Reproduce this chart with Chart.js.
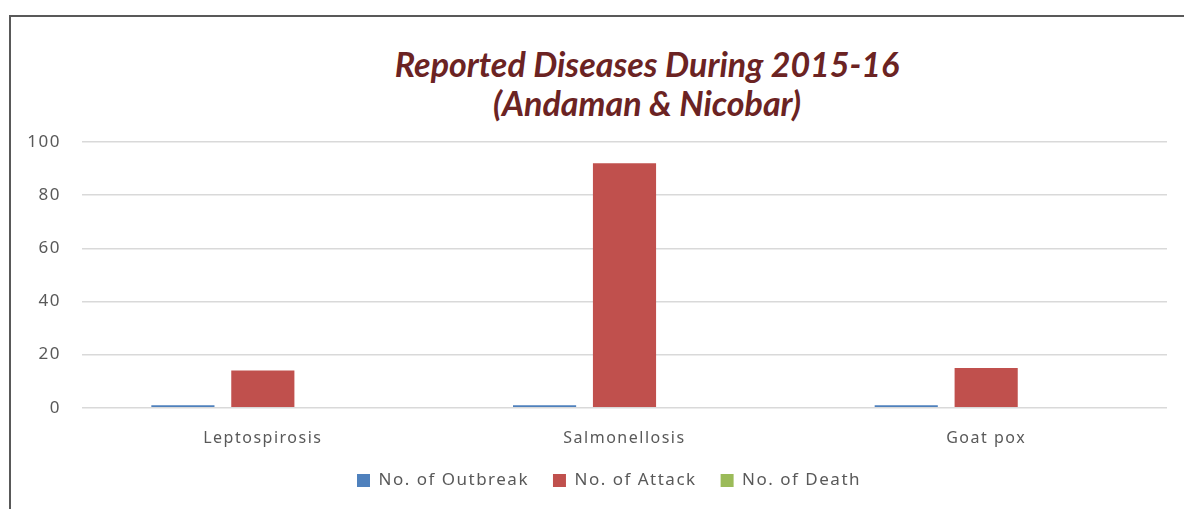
<!DOCTYPE html>
<html>
<head>
<meta charset="utf-8">
<script src="https://cdn.jsdelivr.net/npm/chart.js@4"></script>
<style>
  html, body { margin: 0; padding: 0; background: #fff; overflow: hidden; }
  body { width: 1184px; height: 509px; position: relative; }
  #frame {
    position: absolute; left: 9px; top: 15px; width: 1300px; height: 600px;
    border-left: 2px solid #595959; border-top: 2px solid #595959;
  }
  #title {
    position: absolute; left: 347px; width: 600px; top: 44px;
    text-align: center; font-family: Lato, sans-serif; font-weight: bold;
    font-style: italic; font-size: 34px; line-height: 39px; color: #6b2323;
  }
  #wrap { position: absolute; left: 11px; top: 17px; width: 1192px; height: 492px; }
</style>
</head>
<body>
<div id="frame"></div>
<div id="title">Reported Diseases During 2015-16<br>(Andaman &amp; Nicobar)</div>
<div id="wrap"><canvas id="myChart"></canvas></div>
<script>
const diseases = ["Leptospirosis", "Salmonellosis", "Goat pox"];
const outbreaks = [1, 1, 1];
const attacks = [14, 92, 15];
const deaths = [0, 0, 0];
const yTicks = [0, 20, 40, 60, 80, 100];

// spaced-out lettering like the original export, and legend moved into place
const tweaks = {
    id: "tweaks",
    beforeUpdate(chart) { chart.ctx.letterSpacing = "1.5px"; },
    afterLayout(chart) {
        const lg = chart.legend;
        lg.top -= 13;
        lg.bottom = chart.height;
        lg.left += 20;
        lg.right += 20;
    },
    beforeDraw(chart) { chart.ctx.letterSpacing = "1.5px"; }
};

document.addEventListener("DOMContentLoaded", function () {
    const ctx = document.getElementById("myChart").getContext("2d");
    new Chart(ctx, {
        type: "bar",
        data: {
            labels: diseases,
            datasets: [
                { label: "No. of Outbreak", data: outbreaks, backgroundColor: "#4f81bd" },
                { label: "No. of Attack", data: attacks, backgroundColor: "#c0504d" },
                { label: "No. of Death", data: deaths, backgroundColor: "#9bbb59" }
            ]
        },
        plugins: [tweaks],
        options: {
            responsive: true,
            maintainAspectRatio: false,
            animation: false,
            categoryPercentage: 0.663,
            barPercentage: 0.79,
            layout: { padding: { top: 125, right: 36, left: 0, bottom: 11 } },
            plugins: {
                title: { display: false },
                tooltip: { enabled: false },
                legend: {
                    position: "bottom",
                    maxHeight: 37,
                    labels: {
                        color: "#595959",
                        font: { family: "Noto Sans", size: 17 },
                        boxWidth: 13,
                        boxHeight: 13,
                        padding: 24
                    }
                }
            },
            scales: {
                x: {
                    grid: { display: false },
                    border: { display: false },
                    ticks: { color: "#595959", font: { family: "Noto Sans", size: 16 }, padding: 13 }
                },
                y: {
                    min: 0,
                    max: 100,
                    afterFit: s => { s.width = 71; },
                    afterBuildTicks: s => { s.ticks = yTicks.map(v => ({ value: v })); },
                    grid: { color: "#d9d9d9", lineWidth: 1.5, drawTicks: false },
                    border: { display: false },
                    ticks: { color: "#595959", font: { family: "Noto Sans", size: 17 }, padding: 21 }
                }
            }
        }
    });
});
</script>
</body>
</html>
